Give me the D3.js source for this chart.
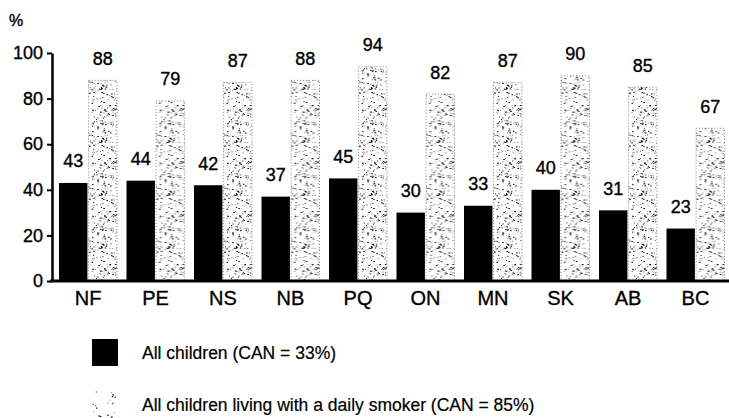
<!DOCTYPE html>
<html><head><meta charset="utf-8">
<script src="https://cdn.jsdelivr.net/npm/d3@7"></script>
<style>body{margin:0;background:#fff} text{font-family:"Liberation Sans",Arial,Helvetica,sans-serif;fill:#000}</style>
</head><body>
<svg id="c" width="729" height="418"></svg>
<script>
const provinces = ["NF","PE","NS","NB","PQ","ON","MN","SK","AB","BC"];
const allChildren = [43,44,42,37,45,30,33,40,31,23];
const withSmoker = [88,79,87,88,94,82,87,90,85,67];
const yTicks = [0,20,40,60,80,100];
const seriesKeys = ["all","smoker"];
const seriesNames = ["All children (CAN = 33%)","All children living with a daily smoker (CAN = 85%)"];

const svg = d3.select("#c");
const defs = svg.append("defs");

// stipple texture (decorative only)
function stipple(id, w, h, n, seed){
  let s = seed;
  const rnd = () => { s = (s * 1103515245 + 12345) % 2147483648; return s / 2147483648; };
  const p = defs.append("pattern").attr("id", id).attr("patternUnits","userSpaceOnUse")
    .attr("width", w).attr("height", h);
  p.append("rect").attr("width", w).attr("height", h).attr("fill","#fff");
  for (let i = 0; i < n; i++) {
    const g = rnd();
    p.append("rect").attr("x", (rnd()*w).toFixed(1)).attr("y", (rnd()*h).toFixed(1))
      .attr("width", g < 0.25 ? 1.5 : 1).attr("height", g > 0.85 ? 1.5 : 1)
      .attr("fill", g < 0.5 ? "#000" : "#777");
  }
}
stipple("dots", 37, 53, 200, 7);
stipple("dotsLight", 26, 27, 22, 3);

const y = d3.scaleLinear().domain([0,100]).range([281,53]);
const x = d3.scaleBand().domain(provinces).range([52,731.5]).paddingInner(0.141).paddingOuter(0.104);
const xs = d3.scaleBand().domain(seriesKeys).range([0, x.bandwidth()]).paddingInner(0.04);

const rows = provinces.map((p,i) => ({p, vals:[{k:"all", v:allChildren[i]},{k:"smoker", v:withSmoker[i]}]}));

const g = svg.append("g");
const grp = g.selectAll("g.grp").data(rows).join("g").attr("class","grp")
  .attr("transform", d => `translate(${x(d.p)},0)`);

grp.selectAll("rect").data(d => d.vals).join("rect")
  .attr("x", d => xs(d.k)).attr("width", xs.bandwidth())
  .attr("y", d => y(d.v)).attr("height", d => y(0) - y(d.v))
  .attr("fill", d => d.k === "all" ? "#000" : "url(#dots)")
  .attr("stroke", d => d.k === "all" ? "none" : "#666")
  .attr("stroke-width", 0.8)
  .attr("stroke-dasharray", d => d.k === "all" ? null : "1,2");

grp.selectAll("text.val").data(d => d.vals).join("text").attr("class","val")
  .attr("x", d => xs(d.k) + xs.bandwidth()/2)
  .attr("y", d => y(d.v) - 15.5)
  .attr("text-anchor","middle").attr("font-size", 18)
  .attr("stroke","#000").attr("stroke-width",0.35)
  .text(d => d.v);

// left axis
const ya = svg.append("g").attr("transform","translate(52,0)")
  .call(d3.axisLeft(y).tickValues(yTicks).tickSize(5).tickSizeOuter(0).tickPadding(4));
ya.select(".domain").attr("stroke","#000").attr("stroke-width",2.5);
ya.selectAll(".tick line").attr("stroke","#000").attr("stroke-width",2);
ya.selectAll(".tick text").attr("font-size",18).attr("font-family","Liberation Sans, Arial, sans-serif")
  .attr("fill","#000").attr("stroke","#000").attr("stroke-width",0.35);

// baseline
svg.append("line").attr("x1",50).attr("x2",729).attr("y1",y(0)).attr("y2",y(0))
  .attr("stroke","#000").attr("stroke-width",3);

// category axis
const xa = svg.append("g").attr("transform",`translate(0,${y(0)})`)
  .call(d3.axisBottom(x).tickSize(0).tickPadding(10));
xa.select(".domain").remove();
xa.selectAll(".tick text").attr("font-size",20).attr("font-family","Liberation Sans, Arial, sans-serif")
  .attr("fill","#000").attr("stroke","#000").attr("stroke-width",0.35);

// unit
svg.append("text").attr("x",9).attr("y",26).attr("font-size",16)
  .attr("stroke","#000").attr("stroke-width",0.4).text("%");

// legend
const lg = svg.append("g");
const ly = [339, 391];
lg.selectAll("rect").data(seriesKeys).join("rect")
  .attr("x",92).attr("y",(d,i)=>ly[i]).attr("width",26).attr("height",27)
  .attr("fill",(d,i)=> i===0 ? "#000" : "url(#dotsLight)");
lg.selectAll("text").data(seriesNames).join("text")
  .attr("x",142).attr("y",(d,i)=>ly[i]+20).attr("font-size",17.5)
  .attr("stroke","#000").attr("stroke-width",0.2)
  .text(d=>d);
</script>
</body></html>
